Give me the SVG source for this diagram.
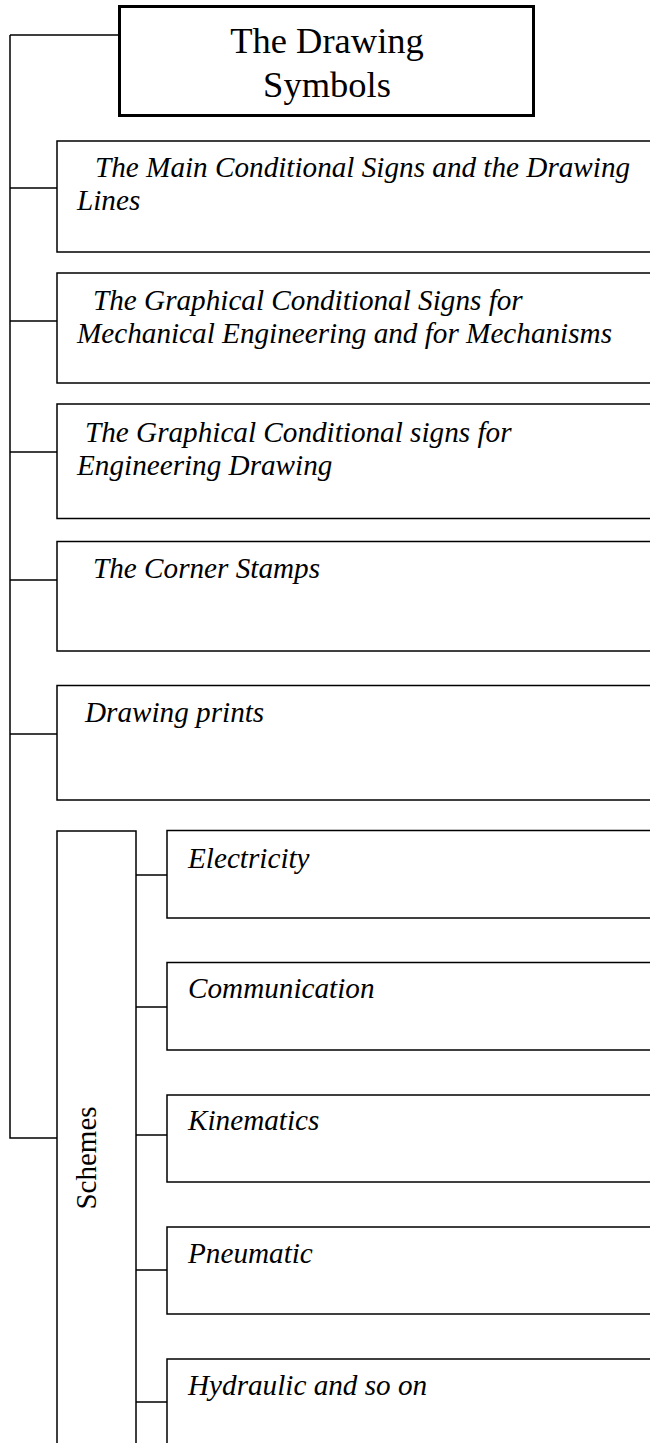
<svg xmlns="http://www.w3.org/2000/svg" width="650" height="1443" viewBox="0 0 650 1443">
  <style>
    .box { fill: #fff; stroke: #000; stroke-width: 1.5; }
    .title-box { fill: #fff; stroke: #000; stroke-width: 3; }
    .link { fill: none; stroke: #000; stroke-width: 1.5; }
    .lbl { font-family: "Liberation Serif", "Times New Roman", serif; font-size: 29.2px; font-style: italic; fill: #000; }
    .title { font-family: "Liberation Serif", "Times New Roman", serif; font-size: 36.5px; fill: #000; text-anchor: middle; }
    .vert { font-family: "Liberation Serif", "Times New Roman", serif; font-size: 29px; fill: #000; text-anchor: middle; }
  </style>

  <!-- connectors: main spine and branches -->
  <g id="connectors">
    <path class="link" d="M10 35 H118 M10 35 V1138 H57"/>
    <path class="link" d="M10 188 H57 M10 321 H57 M10 452 H57 M10 580 H57 M10 734 H57"/>
    <path class="link" d="M136 875 H167 M136 1007 H167 M136 1135 H167 M136 1270 H167 M136 1402 H167"/>
  </g>

  <g id="title">
    <rect class="title-box" x="119.5" y="6.5" width="414" height="109"/>
    <text class="title" x="327" y="53">The Drawing</text>
    <text class="title" x="327" y="97">Symbols</text>
  </g>

  <g id="main-signs">
    <rect class="box" x="57" y="141" width="610" height="111"/>
    <text class="lbl" x="95" y="177">The Main Conditional Signs and the Drawing</text>
    <text class="lbl" x="77" y="210">Lines</text>
  </g>

  <g id="mechanical-signs">
    <rect class="box" x="57" y="273" width="610" height="110"/>
    <text class="lbl" x="93" y="310">The Graphical Conditional Signs for</text>
    <text class="lbl" x="77" y="343">Mechanical Engineering and for Mechanisms</text>
  </g>

  <g id="engineering-signs">
    <rect class="box" x="57" y="404" width="610" height="114.5"/>
    <text class="lbl" x="85" y="442">The Graphical Conditional signs for</text>
    <text class="lbl" x="77" y="475">Engineering Drawing</text>
  </g>

  <g id="corner-stamps">
    <rect class="box" x="57" y="541.5" width="610" height="109.5"/>
    <text class="lbl" x="93" y="578">The Corner Stamps</text>
  </g>

  <g id="drawing-prints">
    <rect class="box" x="57" y="685.5" width="610" height="114.5"/>
    <text class="lbl" x="85" y="722">Drawing prints</text>
  </g>

  <g id="schemes">
    <rect class="box" x="57" y="831" width="79" height="640"/>
    <text class="vert" transform="translate(96 1158) rotate(-90)">Schemes</text>
  </g>

  <g id="electricity">
    <rect class="box" x="167" y="830.5" width="500" height="87.5"/>
    <text class="lbl" x="188" y="868">Electricity</text>
  </g>

  <g id="communication">
    <rect class="box" x="167" y="962.5" width="500" height="87.5"/>
    <text class="lbl" x="188" y="998">Communication</text>
  </g>

  <g id="kinematics">
    <rect class="box" x="167" y="1095" width="500" height="87"/>
    <text class="lbl" x="188" y="1130">Kinematics</text>
  </g>

  <g id="pneumatic">
    <rect class="box" x="167" y="1227" width="500" height="87"/>
    <text class="lbl" x="188" y="1263">Pneumatic</text>
  </g>

  <g id="hydraulic">
    <rect class="box" x="167" y="1359" width="500" height="120"/>
    <text class="lbl" x="188" y="1395">Hydraulic and so on</text>
  </g>
</svg>
